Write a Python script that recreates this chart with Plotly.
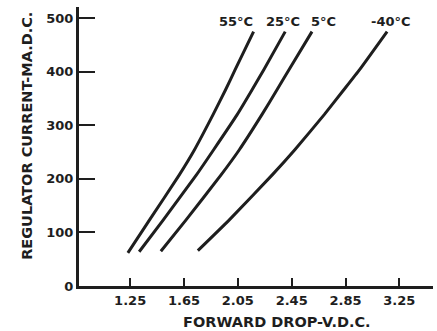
import plotly.graph_objects as go

# forward drop (V) vs regulator current (mA)
temps = ["55°C", "25°C", "5°C", "-40°C"]
current = [62, 123, 207, 254, 320, 366, 404, 475]
v_55 = [1.233, 1.393, 1.614, 1.727, 1.866, 1.958, 2.030, 2.167]
v_25 = [1.317, 1.495, 1.741, 1.869, 2.045, 2.155, 2.243, 2.402]
v_5 = [1.478, 1.664, 1.924, 2.060, 2.229, 2.340, 2.430, 2.601]
v_m40 = [1.753, 1.985, 2.304, 2.472, 2.692, 2.836, 2.955, 3.159]
# bottom ends sit a little higher on the colder curves
start_current = [62, 64, 65, 66]

x_ticks = [1.25, 1.65, 2.05, 2.45, 2.85, 3.25]
y_ticks = [0, 100, 200, 300, 400, 500]

ink = "#1e1e1e"
font = "DejaVu Sans"

fig = go.Figure()
for v, i0 in zip([v_55, v_25, v_5, v_m40], start_current):
    fig.add_trace(go.Scatter(x=v, y=[i0] + current[1:], mode="lines",
                             line=dict(color=ink, width=3, shape="spline", smoothing=0.4),
                             showlegend=False, hoverinfo="skip"))

# curve labels above the top ends
label_x = [2.038, 2.388, 2.685, 3.188]
for t, lx in zip(temps, label_x):
    fig.add_annotation(x=lx, y=494, text=f"<b>{t}</b>", showarrow=False,
                       font=dict(family=font, size=13, color=ink))

fig.add_annotation(xref="paper", yref="paper", x=-0.147, y=0.538,
                   xanchor="center", yanchor="middle",
                   text="<b>REGULATOR CURRENT-MA.D.C.</b>", textangle=-90,
                   showarrow=False, font=dict(family=font, size=14.5, color=ink))
fig.add_annotation(xref="paper", yref="paper", x=0.559, y=-0.129,
                   xanchor="center", yanchor="middle",
                   text="<b>FORWARD DROP-V.D.C.</b>", showarrow=False,
                   font=dict(family=font, size=14.5, color=ink))

fig.update_xaxes(range=[0.87, 3.50], tickvals=x_ticks,
                 ticktext=[f"<b>{t:.2f}</b>" for t in x_ticks],
                 ticks="inside", ticklen=8, tickwidth=2, tickcolor=ink,
                 showline=True, linewidth=3, linecolor=ink,
                 showgrid=False, zeroline=False, automargin=False,
                 tickfont=dict(family=font, size=13, color=ink))
fig.update_yaxes(range=[0, 521], tickvals=y_ticks,
                 ticktext=[f"<b>{t}</b>" for t in y_ticks],
                 ticks="inside", ticklen=16, tickwidth=2, tickcolor=ink,
                 showline=True, linewidth=3, linecolor=ink,
                 showgrid=False, zeroline=False, automargin=False,
                 tickfont=dict(family=font, size=13, color=ink))

fig.update_layout(width=437, height=331,
                  margin=dict(l=79, r=4, t=7, b=45),
                  paper_bgcolor="white", plot_bgcolor="white")

fig.write_html("out.html", config={"displayModeBar": False},
               post_script="document.body.style.margin='0';")
